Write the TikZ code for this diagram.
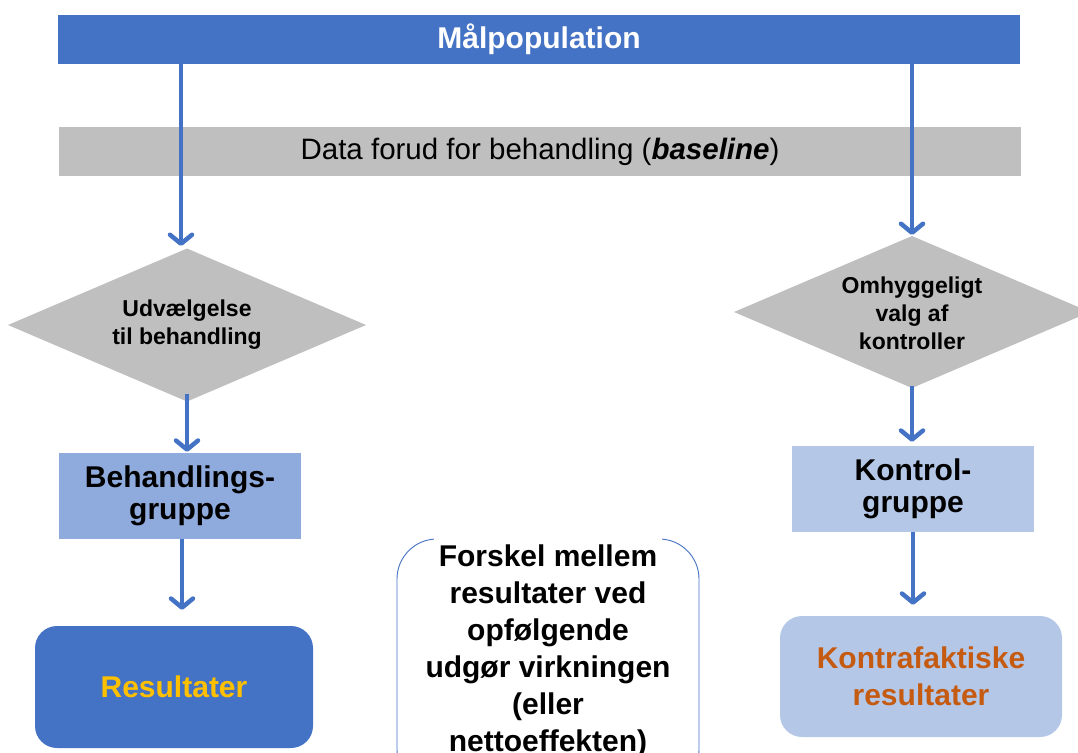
\documentclass[tikz,border=0pt]{standalone}
\usepackage{fontspec}
\setmainfont{Liberation Sans}
\usetikzlibrary{arrows.meta,calc}
\definecolor{accent}{HTML}{4472C4}
\definecolor{grayfill}{HTML}{BFBFBF}
\definecolor{behfill}{HTML}{8FAADC}
\definecolor{ctrlfill}{HTML}{B4C7E7}
\definecolor{goldtext}{HTML}{FFC000}
\definecolor{orangetext}{HTML}{C55A11}
\tikzset{
  bar/.style={rectangle, draw=none, inner sep=0pt, minimum width=962pt, minimum height=49pt},
  diamtext/.style={inner sep=0pt, align=center,
    font=\bfseries\fontsize{23}{28}\selectfont},
  box/.style={rectangle, draw=none, inner sep=0pt, align=center,
    font=\bfseries\fontsize{30}{32}\selectfont},
  rbox/.style={rectangle, rounded corners=22pt, draw=none, inner sep=0pt, align=center,
    font=\bfseries\fontsize{30}{37}\selectfont},
  flow/.style={draw=accent, line width=4.5pt, -{Straight Barb[length=9pt,width=22pt,round]}},
}
\begin{document}
\begin{tikzpicture}[x=1pt,y=-1pt]
\useasboundingbox (0,0) rectangle (1078,752);
\clip (0,0) rectangle (1078,752);

% top bars
\node[bar, fill=accent, text=white, font=\bfseries\fontsize{30}{34}\selectfont] (mal) at (539,39.5) {Målpopulation};
\node[bar, fill=grayfill, font=\fontsize{29.5}{34}\selectfont] (base) at (540,151.5) {Data forud for behandling (\textbf{\textit{baseline}})};

% diamonds (drawn as shapes, with named corner coordinates)
\coordinate (dLtop) at (187,248.5);
\coordinate (dLbot) at (187,401.5);
\coordinate (dLleft) at (8,325);
\coordinate (dLright) at (366,325);
\fill[grayfill] (dLtop) -- (dLright) -- (dLbot) -- (dLleft) -- cycle;
\node[diamtext] (dL) at (187,325) {Udvælgelse\\til behandling};

\coordinate (dRtop) at (912,236);
\coordinate (dRbot) at (912,388);
\coordinate (dRleft) at (734,312);
\coordinate (dRright) at (1090,312);
\fill[grayfill] (dRtop) -- (dRright) -- (dRbot) -- (dRleft) -- cycle;
\node[diamtext] (dR) at (912,313) {Omhyggeligt\\valg af\\kontroller};

% group boxes
\node[box, fill=behfill, minimum width=242pt, minimum height=86pt] (beh) at (180,496) {Behandlings-\\gruppe};
\node[box, fill=ctrlfill, minimum width=242pt, minimum height=86pt] (kon) at (913,489) {Kontrol-\\gruppe};

% result boxes
\node[rbox, fill=accent, text=goldtext, minimum width=278pt, minimum height=122pt] (res) at (174,687) {Resultater};
\node[rbox, fill=ctrlfill, text=orangetext, minimum width=282pt, minimum height=121pt] (kf) at (921,676.5) {Kontrafaktiske\\resultater};

% difference box
\node[rectangle, rounded corners=40pt, draw=accent, line width=0.9pt, fill=white,
  minimum width=302pt, minimum height=251pt, inner sep=0pt] (diff) at (548,664.5) {};
\draw[white, line width=3pt] ($(diff.north)+(-114,0)$) -- ($(diff.north)+(114,0)$);
\node[anchor=north, inner sep=0pt, align=center, font=\bfseries\fontsize{30}{37}\selectfont] (difftxt) at (548,545)
  {Forskel mellem\\resultater ved\\opfølgende\\udgør virkningen\\(eller\\nettoeffekten)};

% connectors
\coordinate (aLend) at (181,247);
\draw[flow, shorten >=1pt] (mal.south -| aLend) -- (aLend);
\draw[flow, shorten >=1pt] (mal.south -| dRtop) -- (dRtop);
\draw[flow, shorten >=1pt] ($(dLbot)+(0,-8)$) -- (dLbot |- beh.north);
\draw[flow, shorten >=4pt] ($(dRbot)+(0,-2)$) -- (dRbot |- kon.north);
\draw[flow, shorten >=16pt] ($(beh.south)+(2,0)$) -- ($(beh.south |- res.north)+(2,0)$);
\draw[flow, shorten >=11pt] (kon.south) -- (kon.south |- kf.north);
\end{tikzpicture}
\end{document}
